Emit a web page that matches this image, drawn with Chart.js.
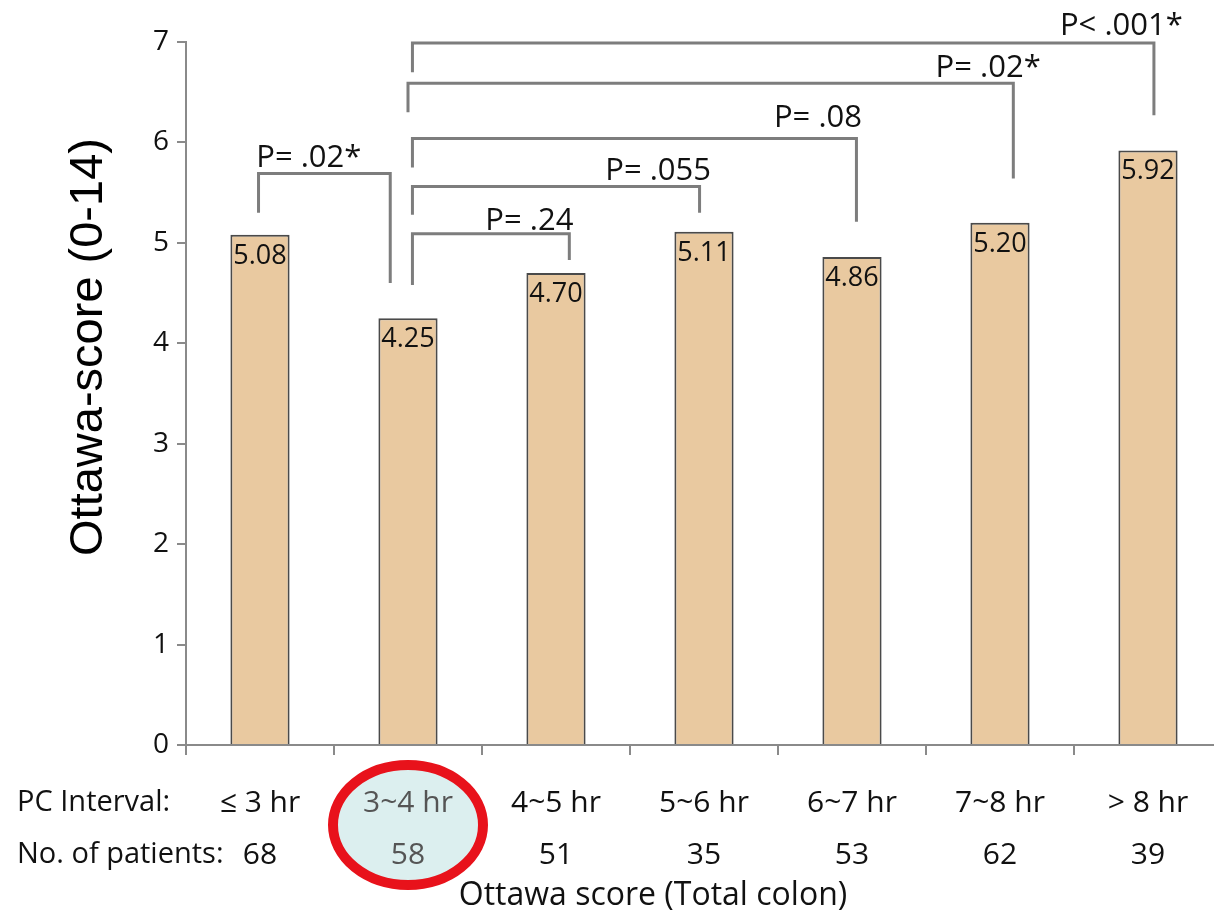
<!DOCTYPE html>
<html>
<head>
<meta charset="utf-8">
<script src="https://cdn.jsdelivr.net/npm/chart.js@4"></script>
<style>
  html, body { margin: 0; padding: 0; background: #fff; overflow: hidden; width: 1214px; height: 913px; }
  #wrap { position: relative; width: 1222px; height: 913px; }
  canvas { display: block; background: #fff; }
</style>
</head>
<body>
<div id="wrap"><canvas id="chart" width="1222" height="913"></canvas></div>
<script>
// Bowel preparation quality by interval between preparation and colonoscopy
const intervals = ['≤ 3 hr', '3~4 hr', '4~5 hr', '5~6 hr', '6~7 hr', '7~8 hr', '> 8 hr'];
const patients = [68, 58, 51, 35, 53, 62, 39];
const scores = [5.08, 4.25, 4.70, 5.11, 4.86, 5.20, 5.92];
const yTicks = [0, 1, 2, 3, 4, 5, 6, 7];
const highlighted = 1;

// Pairwise comparisons (bracket ends in category index units, heights in score units)
const pLabels   = ['P= .02*', 'P= .24', 'P= .055', 'P= .08', 'P= .02*', 'P< .001*'];
const pFrom     = [-0.01, 1.03, 1.03, 1.03, 1.00, 1.03];
const pTo       = [0.88, 2.09, 2.97, 4.03, 5.09, 6.04];
const pFromLow  = [5.30, 4.58, 5.28, 5.75, 6.30, 6.70];
const pToLow    = [4.60, 4.83, 5.30, 5.21, 5.64, 6.27];
const pTop      = [5.69, 5.09, 5.56, 6.04, 6.59, 6.99];
const pTextX    = [0.33, 1.82, 2.69, 3.77, 4.92, 5.82];
const pTextY    = [5.76, 5.13, 5.63, 6.15, 6.65, 7.07];

const AXIS = '#8a8a8a';
const TEXT = '#111111';
const SANS = '"Open Sans", "DejaVu Sans", sans-serif';

const annotate = {
  id: 'annotate',
  beforeDraw(chart) {
    // ring around the highlighted interval
    const { ctx, scales: { x } } = chart;
    const cx = x.getPixelForValue(highlighted);
    ctx.save();
    ctx.beginPath();
    ctx.ellipse(cx, x.top + 80, 75, 60, 0, 0, Math.PI * 2);
    ctx.fillStyle = '#dcefef';
    ctx.fill();
    ctx.lineWidth = 10;
    ctx.strokeStyle = '#e8121b';
    ctx.stroke();
    ctx.restore();
  },
  afterDatasetsDraw(chart) {
    const { ctx, scales: { x, y } } = chart;
    const meta = chart.getDatasetMeta(0);
    ctx.save();
    // value labels inside the top of each bar
    ctx.font = '27px ' + SANS;
    ctx.fillStyle = TEXT;
    ctx.textAlign = 'center';
    ctx.textBaseline = 'alphabetic';
    meta.data.forEach((bar, i) => {
      ctx.fillText(scores[i].toFixed(2), bar.x, bar.y + 29);
    });
    // significance brackets
    ctx.strokeStyle = '#7d7d7d';
    ctx.lineWidth = 3;
    ctx.lineCap = 'butt';
    ctx.lineJoin = 'miter';
    ctx.font = '31px ' + SANS;
    pLabels.forEach((lab, i) => {
      const x1 = x.getPixelForValue(pFrom[i]);
      const x2 = x.getPixelForValue(pTo[i]);
      const yt = y.getPixelForValue(pTop[i]);
      ctx.beginPath();
      ctx.moveTo(x1, y.getPixelForValue(pFromLow[i]));
      ctx.lineTo(x1, yt);
      ctx.lineTo(x2, yt);
      ctx.lineTo(x2, y.getPixelForValue(pToLow[i]));
      ctx.stroke();
      ctx.fillText(lab, x.getPixelForValue(pTextX[i]), y.getPixelForValue(pTextY[i]));
    });
    ctx.restore();
  },
  afterDraw(chart) {
    const { ctx, scales: { x } } = chart;
    ctx.save();
    ctx.fillStyle = TEXT;
    // row headers for the two label rows
    ctx.font = '29px ' + SANS;
    ctx.textAlign = 'left';
    ctx.textBaseline = 'middle';
    ctx.fillText('PC Interval:', 17, x.top + 58);
    ctx.fillText('No. of patients:', 17, x.top + 110);
    // x axis title
    ctx.font = '32px ' + SANS;
    ctx.textAlign = 'center';
    ctx.fillText('Ottawa score (Total colon)', 653, x.top + 151);
    // y axis title
    ctx.fillStyle = '#000';
    ctx.font = '47px "Liberation Sans", Arial, sans-serif';
    ctx.textBaseline = 'alphabetic';
    ctx.translate(102, 347);
    ctx.rotate(-Math.PI / 2);
    ctx.fillText('Ottawa-score (0-14)', 0, 0);
    ctx.restore();
  }
};

new Chart(document.getElementById('chart'), {
  type: 'bar',
  data: {
    labels: intervals.map((s, i) => [s, String(patients[i])]),
    datasets: [{
      data: scores,
      backgroundColor: '#e9c9a0',
      borderColor: '#4a4a4a',
      borderWidth: 2,
      barPercentage: 0.4,
      categoryPercentage: 1
    }]
  },
  options: {
    responsive: false,
    animation: false,
    events: [],
    layout: { padding: { top: 42, left: 0, right: 0, bottom: 0 } },
    plugins: { legend: { display: false }, tooltip: { enabled: false } },
    scales: {
      x: {
        grid: { display: true, drawOnChartArea: false, drawTicks: true, tickLength: 10, color: AXIS, lineWidth: 2, offset: true },
        border: { color: AXIS, width: 2 },
        ticks: {
          font: { family: SANS, size: 30, lineHeight: 52 / 30 },
          color: (c) => (c.index === highlighted ? '#555555' : TEXT),
          padding: 22,
          maxRotation: 0,
          autoSkip: false
        },
        afterFit(s) { s.height = 168; }
      },
      y: {
        min: 0,
        max: 7,
        ticks: { stepSize: 1, font: { family: SANS, size: 28 }, color: TEXT, padding: 8 },
        afterBuildTicks(s) { s.ticks = yTicks.map(v => ({ value: v })); },
        grid: { display: true, drawOnChartArea: false, tickLength: 9, color: AXIS, lineWidth: 2 },
        border: { color: AXIS, width: 2 },
        afterFit(s) { s.width = 186; }
      }
    }
  },
  plugins: [annotate]
});
</script>
</body>
</html>
